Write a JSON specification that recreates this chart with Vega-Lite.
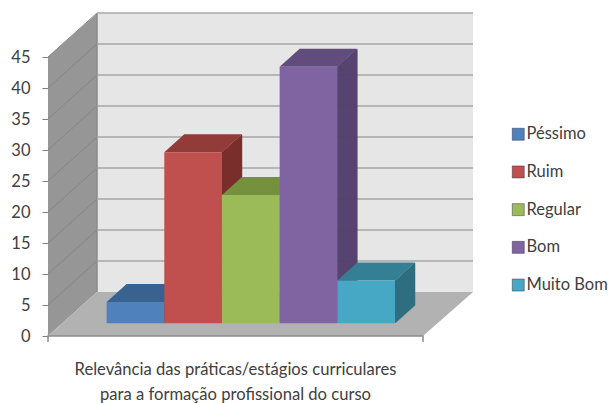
{"$schema":"https://vega.github.io/schema/vega-lite/v6.json","width":375,"height":279,"autosize":"none","padding":{"left":48,"top":57,"right":185,"bottom":67},"background":"white","config":{"view":{"stroke":null},"font":"Lato","axisY":{"title":null,"values":[0,5,10,15,20,25,30,35,40,45],"labelOverlap":false,"domain":false,"grid":false,"tickColor":"#808080","tickSize":6,"labelFont":"Lato","labelFontSize":16.5,"labelColor":"#404040","labelPadding":12}},
"data":{"values":[{"categoria":"Péssimo","valor":3.45},{"categoria":"Ruim","valor":27.59},{"categoria":"Regular","valor":20.69},{"categoria":"Bom","valor":41.38},{"categoria":"Muito Bom","valor":6.9}]},
"resolve":{"scale":{"fill":"independent"}},
"layer":[
{"data":{"values":[{"base":0}]},"encoding":{"x":{"datum":"Péssimo","type":"nominal","bandPosition":0,"scale":{"type":"band","domain":["Péssimo","Ruim","Regular","Bom","Muito Bom"],"range":[58.6,347],"paddingInner":0,"paddingOuter":0},"axis":{"title":["Relevância das práticas/estágios curriculares","para a formação profissional do curso"],"labels":false,"ticks":false,"domain":false,"titleFont":"Lato","titleFontSize":16.6,"titleFontWeight":"normal","titleColor":"#404040","titleLineHeight":25,"titleX":187,"titleY":25,"titleAlign":"center","titleAnchor":"middle"}},"y":{"field":"base","type":"quantitative","scale":{"domain":[0,45],"nice":false},"axis":{"title":null,"values":[0,5,10,15,20,25,30,35,40,45],"labelOverlap":false,"tickCount":10}}},
"layer":[
{"mark":{"type":"point","xOffset":-58.6,"size":4,"filled":true,"opacity":1,"fill":"#e6e6e6","stroke":null,"shape":"M49,-44L425,-44L425,-322.5L49,-322.5Z"}},
{"mark":{"type":"point","xOffset":-58.6,"size":4,"filled":true,"opacity":1,"fill":"#969696","stroke":null,"shape":"M0,0L49,-44L49,-322.5L0,-279Z"}},
{"mark":{"type":"point","xOffset":-58.6,"size":4,"filled":false,"opacity":1,"fill":null,"stroke":"#8a8a8a","strokeWidth":1.5,"shape":"M49,-44L49,-322.5"}}
]},
{"data":{"values":[{"nivel":5},{"nivel":10},{"nivel":15},{"nivel":20},{"nivel":25},{"nivel":30},{"nivel":35},{"nivel":40},{"nivel":45}]},"encoding":{"x":{"datum":"Péssimo","type":"nominal","bandPosition":0},"y":{"field":"nivel","type":"quantitative","axis":{"title":null,"values":[0,5,10,15,20,25,30,35,40,45],"labelOverlap":false,"tickCount":10}}},
"layer":[
{"mark":{"type":"point","xOffset":-58.6,"size":4,"filled":false,"opacity":1,"fill":null,"stroke":"#868686","strokeWidth":1,"shape":"M0,0L49,-44"}},
{"mark":{"type":"point","xOffset":-58.6,"size":4,"filled":false,"opacity":1,"fill":null,"stroke":"#a6a6a6","strokeWidth":1.5,"shape":"M49,-44L425,-44"}}
]},
{"data":{"values":[{"base":0}]},"encoding":{"x":{"datum":"Péssimo","type":"nominal","bandPosition":0},"y":{"field":"base","type":"quantitative","axis":{"title":null,"values":[0,5,10,15,20,25,30,35,40,45],"labelOverlap":false,"tickCount":10}}},
"layer":[
{"mark":{"type":"point","xOffset":-58.6,"size":4,"filled":true,"opacity":1,"fill":"#b2b2b2","stroke":null,"shape":"M0,0L49,-44L425,-44L375,0Z"}},
{"mark":{"type":"point","xOffset":-58.6,"size":4,"filled":false,"opacity":1,"fill":null,"stroke":"#8c8c8c","strokeWidth":1.5,"shape":"M0,6L0,0L375,0L375,6"}}
]},
{"encoding":{"x":{"field":"categoria","type":"nominal","bandPosition":1},"y":{"field":"valor","type":"quantitative","axis":{"title":null,"values":[0,5,10,15,20,25,30,35,40,45],"labelOverlap":false,"tickCount":10}},"y2":{"datum":0},"stroke":{"field":"categoria","type":"nominal","legend":null,"scale":{"domain":["Péssimo","Ruim","Regular","Bom","Muito Bom"],"range":["#2f5a8c","#7b2f2c","#6a8537","#533f6c","#2f6f80"]}}},
"layer":[
{"mark":{"type":"rule","strokeWidth":1.5,"xOffset":0.5,"yOffset":-13.15,"y2Offset":-13.15}},
{"mark":{"type":"rule","strokeWidth":1.5,"xOffset":1.5,"yOffset":-14.05,"y2Offset":-14.05}},
{"mark":{"type":"rule","strokeWidth":1.5,"xOffset":2.5,"yOffset":-14.95,"y2Offset":-14.95}},
{"mark":{"type":"rule","strokeWidth":1.5,"xOffset":3.5,"yOffset":-15.85,"y2Offset":-15.85}},
{"mark":{"type":"rule","strokeWidth":1.5,"xOffset":4.5,"yOffset":-16.75,"y2Offset":-16.75}},
{"mark":{"type":"rule","strokeWidth":1.5,"xOffset":5.5,"yOffset":-17.65,"y2Offset":-17.65}},
{"mark":{"type":"rule","strokeWidth":1.5,"xOffset":6.5,"yOffset":-18.55,"y2Offset":-18.55}},
{"mark":{"type":"rule","strokeWidth":1.5,"xOffset":7.5,"yOffset":-19.45,"y2Offset":-19.45}},
{"mark":{"type":"rule","strokeWidth":1.5,"xOffset":8.5,"yOffset":-20.35,"y2Offset":-20.35}},
{"mark":{"type":"rule","strokeWidth":1.5,"xOffset":9.5,"yOffset":-21.25,"y2Offset":-21.25}},
{"mark":{"type":"rule","strokeWidth":1.5,"xOffset":10.5,"yOffset":-22.15,"y2Offset":-22.15}},
{"mark":{"type":"rule","strokeWidth":1.5,"xOffset":11.5,"yOffset":-23.05,"y2Offset":-23.05}},
{"mark":{"type":"rule","strokeWidth":1.5,"xOffset":12.5,"yOffset":-23.95,"y2Offset":-23.95}},
{"mark":{"type":"rule","strokeWidth":1.5,"xOffset":13.5,"yOffset":-24.85,"y2Offset":-24.85}},
{"mark":{"type":"rule","strokeWidth":1.5,"xOffset":14.5,"yOffset":-25.75,"y2Offset":-25.75}},
{"mark":{"type":"rule","strokeWidth":1.5,"xOffset":15.5,"yOffset":-26.65,"y2Offset":-26.65}},
{"mark":{"type":"rule","strokeWidth":1.5,"xOffset":16.5,"yOffset":-27.55,"y2Offset":-27.55}},
{"mark":{"type":"rule","strokeWidth":1.5,"xOffset":17.5,"yOffset":-28.45,"y2Offset":-28.45}},
{"mark":{"type":"rule","strokeWidth":1.5,"xOffset":18.5,"yOffset":-29.35,"y2Offset":-29.35}},
{"mark":{"type":"rule","strokeWidth":1.5,"xOffset":19.5,"yOffset":-30.25,"y2Offset":-30.25}}
]},
{"mark":{"type":"point","size":4,"filled":true,"opacity":1,"yOffset":-12.7,"shape":"M0,0L57.7,0L77.7,-18L20,-18Z"},"encoding":{"x":{"field":"categoria","type":"nominal","bandPosition":0},"y":{"field":"valor","type":"quantitative","axis":{"title":null,"values":[0,5,10,15,20,25,30,35,40,45],"labelOverlap":false,"tickCount":10}},"fill":{"field":"categoria","type":"nominal","legend":null,"scale":{"domain":["Péssimo","Ruim","Regular","Bom","Muito Bom"],"range":["#38628f","#923c39","#75903f","#624c7d","#347f94"]}}}},
{"mark":{"type":"bar","yOffset":-12.7,"y2Offset":-12.7},"encoding":{"x":{"field":"categoria","type":"nominal"},"y":{"field":"valor","type":"quantitative","axis":{"title":null,"values":[0,5,10,15,20,25,30,35,40,45],"labelOverlap":false,"tickCount":10}},"y2":{"datum":0},"fill":{"field":"categoria","type":"nominal","scale":{"domain":["Péssimo","Ruim","Regular","Bom","Muito Bom"],"range":["#4f81bd","#c0504d","#9bbb59","#8064a2","#46a8c4"]},"legend":{"title":null,"orient":"none","legendX":462,"legendY":69,"symbolType":"square","symbolSize":144,"symbolStrokeWidth":1,"symbolStrokeColor":"rgba(40,40,60,0.45)","labelFont":"Lato","labelFontSize":16.5,"labelColor":"#404040","labelOffset":0,"rowPadding":20.7}}}}
]}
